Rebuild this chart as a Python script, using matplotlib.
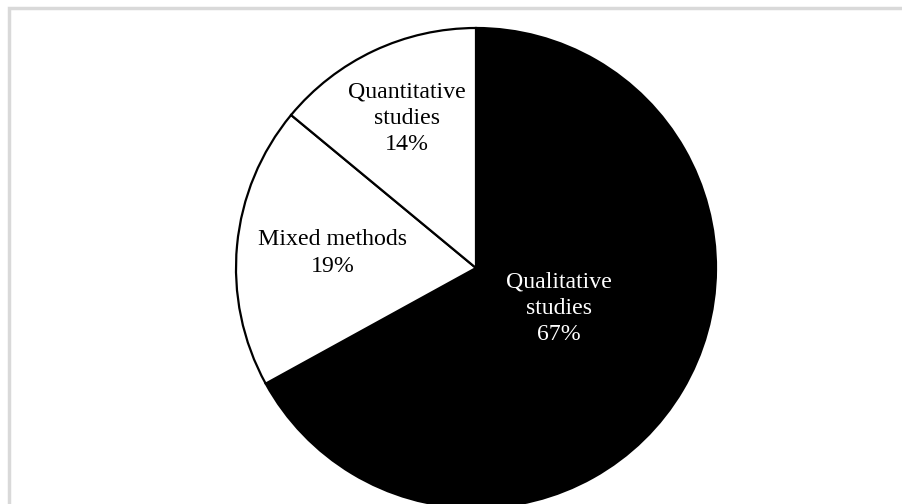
import matplotlib.pyplot as plt

categories = ['Qualitative\nstudies', 'Mixed methods', 'Quantitative\nstudies']
shares = [67, 19, 14]
colors = ['black', 'white', 'white']
text_colors = ['white', 'black', 'black']
# label centres in pixel coords (x, y from top)
label_pos = [(559, 308), (333, 253), (407, 118)]

W, H = 903, 504
fig = plt.figure(figsize=(W / 100, H / 100), dpi=100)
ax = fig.add_axes([0, 0, 1, 1])

# outer light grey frame (cut by the right and bottom image edges)
ax.plot([9, 9, W + 5], [-5, H - 8, H - 8], color='#d9d9d9', lw=2.5, solid_joinstyle='miter')

ax.pie(shares, colors=colors, startangle=90, counterclock=False,
       center=(476, H - 268), radius=240, frame=True,
       wedgeprops=dict(edgecolor='black', linewidth=1.6))
ax.set_xlim(0, W)
ax.set_ylim(0, H)
ax.set_aspect('equal')
ax.axis('off')

for cat, val, (x, y), c in zip(categories, shares, label_pos, text_colors):
    ax.text(x, H - y, f'{cat}\n{val}%', ha='center', va='center', color=c,
            fontsize=17.2, family='Liberation Serif', linespacing=1.34)

fig.savefig('out.png', dpi=100)
